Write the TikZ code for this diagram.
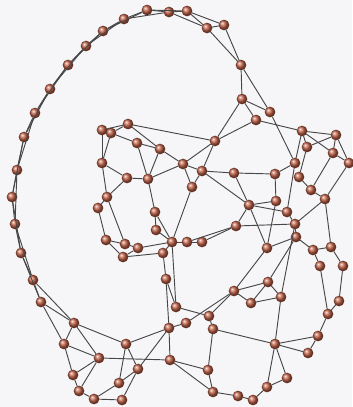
\documentclass[tikz,border=0pt]{standalone}
\usepackage{tikz}
\usetikzlibrary{positioning}
\definecolor{ballred}{RGB}{192,96,70}
\definecolor{paper}{RGB}{246,246,248}

\begin{document}
\begin{tikzpicture}[x=0.3mm, y=-0.3mm,
    vtx/.style={circle, ball color=ballred, draw=ballred!50!black, line width=0.2pt, inner sep=0pt, minimum size=3.1mm},
    link/.style={draw=black!72, line width=0.28mm}
]
    \fill[paper] (0,0) rectangle (352,407);
    \useasboundingbox (0,0) rectangle (352,407);

    % outer ring
    \foreach \n/\x/\y in {a1/147/10, a2/124/19, a3/103/31, a4/86/46, a5/68/65, a6/50/89, a7/35/113,
        a8/24/137, a9/17/170, a10/12/197, a11/15/224, a12/21/253, a13/33/280, a14/41/302,
        t1/169/12, t2/187/11, t3/207/28, t4/224/25, t5/241/65, t6/242/99, t7/270/112, t8/256/120}
        \node[vtx] (\n) at (\x,\y) {};
    % right cluster
    \foreach \n/\x/\y in {r1/302/131, r2/336/135, r3/307/147, r4/333/153, r5/349/163, r6/295/163,
        r7/299/177, r8/311/190, r9/325/199, r10/275/174, r11/276/201, r12/287/212, r13/295/224,
        r14/296/237, r15/313/250, r16/331/247, r17/320/266, r18/343/266, r19/267/248}
        \node[vtx] (\n) at (\x,\y) {};
    % middle
    \foreach \n/\x/\y in {m1/215/141, m2/183/164, m3/202/171, m4/234/173, m5/192/187, m6/249/205,
        m7/236/226, m8/172/242, m9/187/242, m10/202/242}
        \node[vtx] (\n) at (\x,\y) {};
    % left cluster
    \foreach \n/\x/\y in {l1/102/130, l2/111/133, l3/128/124, l4/137/143, l5/160/149, l6/102/163,
        l7/127/178, l8/148/179, l9/107/197, l10/98/208, l11/155/212, l12/156/230, l13/106/240,
        l14/125/244, l15/138/248, l16/123/257, l17/163/253}
        \node[vtx] (\n) at (\x,\y) {};
    % bottom
    \foreach \n/\x/\y in {b1/268/282, b2/234/291, b3/251/303, b4/281/297, b5/176/307, b6/209/316,
        b7/186/323, b8/169/328, b9/213/329, b10/339/301, b11/328/314, b12/318/336, b13/275/344,
        b14/308/353, b15/170/360, b16/208/370, b17/287/378, b18/267/387, b19/213/392,
        b20/238/396, b21/253/400, b22/166/279,
        c3/74/323, c4/64/344, c5/99/358, c6/126/344, c7/73/375, c8/79/391, c9/94/399,
        c10/119/383, c11/122/400, c12/138/369}
        \node[vtx] (\n) at (\x,\y) {};

    % ring edges (single and skip links)
    \foreach \p/\q in {a1/a2, a2/a3, a3/a4, a4/a5, a5/a6, a6/a7, a7/a8, a8/a9, a9/a10, a10/a11,
        a11/a12, a12/a13, a13/a14, a1/a3, a2/a4, a3/a5, a4/a6, a5/a7, a6/a8, a7/a9, a8/a10,
        a9/a11, a10/a12, a11/a13, a12/a14, a1/t1, a2/t1, t1/t2, a1/t2,
        t1/t3, t2/t3, t2/t4, t3/t4, t3/t5, t4/t5, t5/t6, t5/t7, t6/t7, t6/t8, t6/m1, t8/m1,
        t8/r1, t7/r6}
        \draw[link] (\p) -- (\q);
    % right cluster edges
    \foreach \p/\q in {r1/r2, r1/r3, r1/r6, r2/r3, r1/r4, r2/r4, r2/r5, r4/r5, r4/r8, r5/r9,
        r3/r7, r6/r10, r6/r12, r7/r8, r8/r9, r10/r11, r9/r13, r12/r13, r13/r14, r14/r15,
        r15/r16, r15/r17, r16/r18, r19/r14, r11/r19, r9/r16}
        \draw[link] (\p) -- (\q);
    % middle edges
    \foreach \p/\q in {m1/m2, m1/m3, m2/m3, m2/m5, m3/m5, m3/m4, m4/r10, m3/m6, m4/m6, m6/m7,
        m6/r11, m6/r12, m7/m9, m7/m10, m7/r13, m6/r19, m5/m8, m8/m9, m9/m10}
        \draw[link] (\p) -- (\q);
    % left cluster edges
    \foreach \p/\q in {l1/l2, l1/l3, l2/l3, l2/l4, l4/l5, l3/l5, l3/m1, l1/l6, l2/l6, l4/l8,
        l5/l8, l5/m2, l8/m2, l6/l7, l7/l8, l7/l9, l6/l9, l8/l11, l9/l10, l10/l13, l9/l14,
        l11/l12, l12/m8, l11/m8, l13/l14, l14/l15, l15/m8, l13/l16, l16/l15, l16/l17,
        l17/m8, l17/b22}
        \draw[link] (\p) -- (\q);
    % bottom edges
    \foreach \p/\q in {b2/b6, b2/b7, b5/b6, b7/b8, b6/b9, b8/b15, b22/b5, b22/b8, m8/b5,
        b9/b13, b9/b16, b15/b16, b16/b19, b15/b19, b19/b20, b20/b21, b21/b18, b18/b17,
        b13/b18, b13/b17, b13/b12, b13/b14, b12/b14, b12/b11, b11/b10, b10/r18, b11/r17,
        b4/b13, b1/b2, b1/b3, b1/b4, b2/b3, b3/b4, b1/r14, b4/r13, b2/r19,
        a13/c3, a14/c3, a14/c4, c3/c4, c3/c6, c3/c5, c4/c5, c4/c7, c5/c7, c5/c8, c5/b15,
        c6/c12, c6/c10, c6/b8, c7/c8, c8/c9, c9/c10, c9/c11, c10/c12, c11/c12, c12/b8}
        \draw[link] (\p) -- (\q);
\end{tikzpicture}
\end{document}
